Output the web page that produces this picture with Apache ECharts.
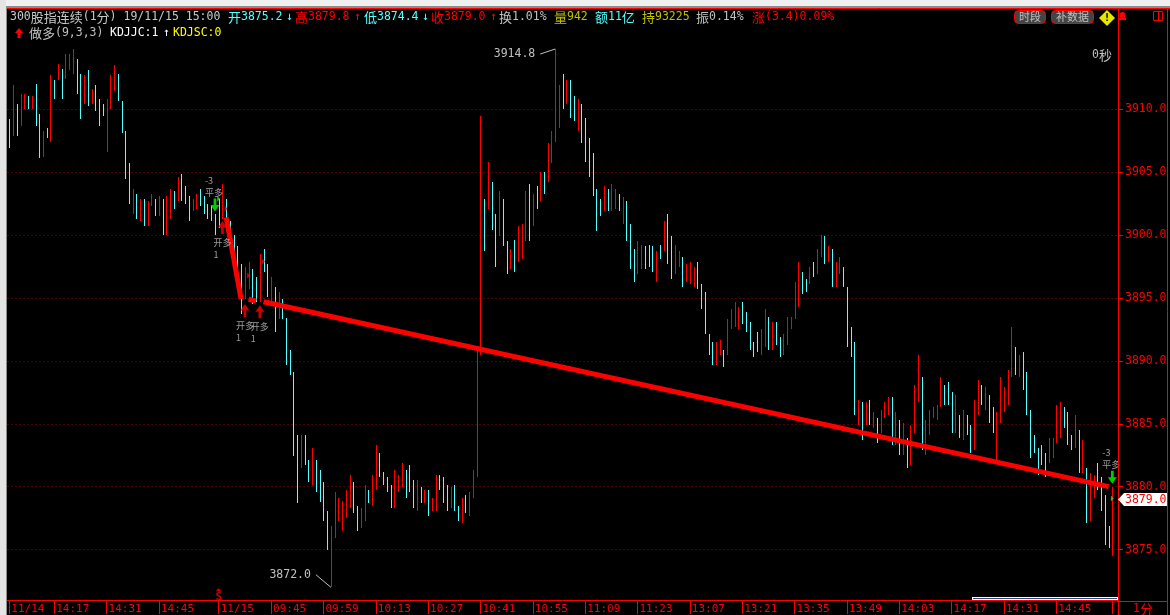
<!DOCTYPE html>
<html><head><meta charset="utf-8">
<style>html,body{margin:0;padding:0;background:#000}#c{width:1170px;height:615px}</style>
<script src="https://cdn.jsdelivr.net/npm/echarts@6/dist/echarts.min.js"></script>
</head><body><div id="c"></div>
<script>
const barHigh=[
3909.2,3911.9,3910.4,3911.2,3911.2,3911.1,3911.1,3912.0,3909.6,3908.3,
3908.5,3912.7,3912.3,3913.6,3913.2,3914.4,3914.4,3914.8,3914.0,3912.8,
3912.7,3913.1,3911.6,3911.9,3910.8,3910.4,3910.8,3912.7,3913.5,3912.8,
3910.7,3908.3,3905.7,3903.7,3903.3,3902.9,3902.9,3902.7,3903.3,3902.9,
3903.1,3902.9,3903.1,3903.7,3903.5,3904.6,3904.9,3903.9,3903.1,3902.9,
3903.3,3903.7,3903.1,3902.5,3902.3,3901.7,3902.9,3904.1,3902.9,3901.1,
3900.0,3899.1,3897.7,3897.5,3897.9,3897.3,3896.7,3898.5,3898.9,3897.7,
3896.7,3895.9,3895.5,3894.9,3893.4,3890.9,3889.1,3884.1,3884.1,3884.1,
3882.1,3883.1,3882.1,3881.3,3880.4,3878.1,3876.9,3879.6,3879.1,3878.9,
3879.7,3880.9,3880.4,3878.5,3878.3,3880.1,3879.7,3880.9,3883.3,3882.7,
3881.2,3880.8,3880.1,3881.3,3880.9,3881.9,3881.3,3881.7,3880.5,3880.5,
3880.0,3879.7,3879.7,3879.1,3880.9,3880.9,3880.8,3880.1,3880.0,3880.1,
3878.5,3879.1,3879.3,3879.6,3881.3,3890.8,3909.5,3902.9,3905.8,3904.2,
3901.7,3903.5,3902.9,3899.5,3898.9,3899.6,3900.7,3900.9,3903.5,3904.1,
3903.3,3903.9,3905.0,3905.0,3907.3,3908.3,3914.8,3911.9,3912.8,3912.3,
3912.3,3911.1,3910.8,3910.4,3909.3,3907.7,3906.5,3903.7,3902.9,3903.9,
3903.7,3904.1,3903.7,3903.3,3903.0,3902.7,3900.9,3898.9,3899.5,3899.2,
3899.1,3899.2,3899.1,3898.7,3899.2,3901.1,3901.7,3899.9,3899.2,3898.7,
3898.3,3897.7,3897.9,3897.5,3897.9,3896.1,3895.5,3892.1,3891.5,3891.5,
3891.7,3890.9,3893.3,3894.1,3894.7,3894.3,3894.7,3893.9,3893.1,3891.5,
3892.3,3892.5,3894.1,3893.5,3893.1,3893.1,3891.9,3892.1,3893.5,3893.5,
3896.3,3897.9,3897.1,3896.5,3897.5,3897.9,3898.9,3900.0,3899.9,3899.1,
3898.9,3897.9,3898.3,3897.5,3895.9,3892.7,3891.5,3886.9,3886.7,3886.7,
3886.9,3885.9,3885.5,3886.1,3886.7,3887.1,3887.1,3885.9,3885.3,3885.1,
3883.9,3884.9,3888.1,3890.5,3888.7,3885.3,3886.1,3886.3,3886.5,3888.7,
3888.1,3888.3,3887.5,3887.3,3885.7,3886.1,3885.7,3884.9,3886.9,3888.5,
3888.1,3887.9,3887.3,3886.3,3885.9,3888.7,3887.9,3889.3,3892.7,3891.1,
3890.5,3890.7,3889.1,3886.1,3884.1,3883.1,3883.3,3882.7,3883.9,3883.9,
3886.5,3886.7,3886.3,3885.9,3884.1,3885.7,3884.5,3883.7,3881.5,3881.1,
3880.9,3881.9,3880.8,3879.3,3876.9,3880.0];
const barLow=[
3906.9,3907.9,3907.9,3908.7,3910.0,3910.0,3910.0,3908.7,3906.1,3906.2,
3907.7,3907.4,3910.8,3912.3,3910.8,3912.4,3913.1,3912.8,3911.2,3909.2,
3910.4,3910.3,3910.4,3909.9,3908.7,3909.5,3906.6,3910.0,3911.5,3910.7,
3908.1,3904.5,3902.5,3901.7,3901.3,3901.1,3900.7,3900.7,3902.3,3901.5,
3901.5,3900.0,3900.0,3901.3,3902.1,3902.7,3902.7,3902.5,3901.1,3901.9,
3902.1,3902.3,3901.7,3901.3,3901.1,3900.0,3900.6,3901.3,3900.3,3899.0,
3898.1,3896.9,3893.7,3894.9,3895.7,3894.5,3894.7,3894.7,3897.1,3895.1,
3894.7,3892.3,3893.3,3893.3,3889.7,3888.9,3882.4,3878.7,3881.5,3881.7,
3880.4,3880.1,3879.6,3878.8,3877.3,3875.0,3872.0,3875.9,3877.3,3876.5,
3877.5,3878.3,3877.9,3876.5,3876.7,3877.3,3878.7,3878.5,3879.7,3880.8,
3880.1,3879.6,3878.3,3878.3,3879.6,3880.0,3879.1,3879.6,3878.3,3878.1,
3878.7,3878.7,3877.7,3878.1,3878.1,3879.7,3878.7,3878.1,3878.3,3878.1,
3877.3,3877.1,3877.9,3877.7,3879.1,3880.8,3890.5,3898.7,3902.1,3900.4,
3897.5,3899.9,3899.1,3896.9,3897.3,3897.1,3897.9,3898.1,3899.5,3899.5,
3900.7,3902.1,3902.7,3903.3,3904.2,3905.7,3907.4,3908.5,3910.0,3910.4,
3909.3,3909.1,3908.3,3907.3,3905.8,3904.6,3903.1,3900.3,3901.5,3901.9,
3901.9,3901.9,3902.1,3901.9,3900.9,3899.5,3897.3,3896.3,3896.9,3897.3,
3897.3,3897.5,3897.1,3896.3,3898.1,3898.7,3897.7,3896.5,3896.9,3897.5,
3895.9,3896.3,3896.1,3895.9,3895.7,3894.1,3892.1,3890.5,3889.7,3889.7,
3890.5,3889.5,3890.5,3892.5,3892.7,3892.5,3892.9,3892.3,3890.9,3890.3,
3890.7,3890.5,3891.1,3890.9,3890.9,3891.3,3890.3,3890.5,3891.3,3892.5,
3893.3,3894.3,3895.3,3895.5,3896.1,3896.7,3896.9,3898.3,3897.7,3897.9,
3895.9,3895.9,3896.9,3895.9,3891.1,3890.3,3885.7,3884.9,3883.7,3884.9,
3884.9,3884.7,3883.5,3884.3,3885.5,3885.7,3883.3,3883.3,3882.5,3882.5,
3881.5,3881.7,3884.3,3886.7,3882.9,3882.5,3884.1,3885.5,3885.3,3886.3,
3886.5,3886.5,3884.3,3884.3,3883.9,3883.7,3884.1,3882.7,3882.9,3885.7,
3886.5,3886.1,3885.1,3884.3,3882.1,3885.1,3885.9,3886.5,3888.7,3888.9,
3888.7,3887.7,3885.7,3882.3,3882.7,3880.9,3881.7,3880.8,3881.9,3882.3,
3883.5,3883.9,3884.7,3883.3,3882.9,3883.1,3881.1,3881.1,3877.1,3877.3,
3879.1,3879.7,3878.1,3875.4,3875.1,3874.5];
const barRise=[
0,1,0,1,1,0,1,0,0,1, 0,1,0,1,0,1,1,1,0,0, 1,0,1,0,0,0,1,1,1,0, 0,0,0,1,0,1,0,1,1,0,
1,0,1,1,0,1,0,0,0,1, 1,0,0,0,0,0,0,1,0,0, 0,0,0,1,1,0,0,1,0,0, 1,0,1,0,0,0,0,0,1,0,
0,1,0,0,0,0,1,1,1,1, 1,1,0,0,1,1,0,1,1,0, 0,0,0,1,1,1,0,0,0,1, 0,1,0,1,1,0,0,0,1,0,
0,1,0,1,1,1,1,0,1,0, 0,1,0,0,1,0,1,1,1,0, 1,0,1,0,1,1,1,1,0,1, 0,0,1,0,0,0,0,0,0,1,
0,1,1,0,1,0,0,0,1,1, 0,0,0,1,0,1,0,0,1,1, 0,1,1,1,0,0,0,0,0,1, 1,0,1,1,1,1,0,0,0,0,
0,1,1,0,1,0,0,1,1,1, 1,1,0,0,1,0,1,1,0,1, 0,1,1,0,0,0,0,1,0,1, 0,1,0,1,1,1,0,1,0,1,
0,1,1,1,0,1,1,1,1,1, 0,0,0,1,0,1,0,0,1,1, 0,1,0,0,1,1,1,1,1,0, 1,0,0,0,0,0,0,0,1,1,
1,1,0,0,0,1,0,1,0,1, 1,0,0,0,0,1];

const tickIndex=[0,12,26,40,56,70,84,98,112,126,140,154,168,182,196,210,224,238,252,266,280,295];
const tickLabels=['11/14','14:17','14:31','14:45','11/15','09:45','09:59','10:13','10:27','10:41','10:55','11:09','11:23','13:07','13:21','13:35','13:49','14:03','14:17','14:31','14:45',''];
const priceTicks=[3875,3880,3885,3890,3895,3900,3905,3910];
const priceMin=3870.99, priceMax=3918.06;

const trendA=[[58,3901.4],[62,3894.9]];
const trendB=[[64,3894.9],[66,3894.75]];
const trendC=[[68,3894.7],[294,3880.0]];
const openLong=[[57,3900.6],[63,3894.0],[67,3893.9]];
const closeLong=[[55,3902.4],[295,3880.75]];
const redFlags=[[58,3902.1],[64,3896.8],[68,3897.9]];
const greenFlags=[[56,3902.9],[295,3879.06]];
const stopMark=[[56,3871.8]];
const highNote=[[142,3914.4],[146,3914.8]];
const lowNote=[[82,3873.0],[86,3872.0]];

const headerRow1=[[10,'300股指连续(1分) 19/11/15 15:00','#c8c8c8'],[228,'开3875.2','#54ffff'],[286,'↓','#54ffff'],
[295,'高3879.8','#ff0000'],[354,'↑','#ff0000'],[364,'低3874.4','#54ffff'],[422,'↓','#54ffff'],[431,'收3879.0','#ff0000'],[490,'↑','#ff0000'],
[499,'换1.01%','#c0c0c0'],[554,'量942','#c0c000'],[595,'额11亿','#54ffff'],[642,'持93225','#c0c000'],[696,'振0.14%','#c0c0c0'],[752,'涨(3.4)0.09%','#ff0000']];
const headerRow2=[[29,'做多(9,3,3)','#c0c0c0'],[110,'KDJJC:1','#ffffff'],[163,'↑','#ffffff'],[173,'KDJSC:0','#ffff00']];

const mono='"DejaVu Sans Mono","Noto Sans CJK SC",monospace';
const cjk='"Noto Sans CJK SC",sans-serif';
const RED='#ff0000', CYAN='#54ffff', GRAY='#c0c0c0';

const categories=barHigh.map(()=>''); categories.push('');
tickIndex.forEach((i,k)=>{categories[i]=tickLabels[k];});
const tickSet=new Set(tickIndex);
const bars=barHigh.map((h,i)=>[i,barLow[i],h,barRise[i]]);

// Mixed text: CJK runs are drawn wider than the monospace digits, as in the reference.
const mixed=(text,color)=>{
  const runs=text.match(/[\u4e00-\u9fff]+|[^\u4e00-\u9fff]+/g);
  return {text:runs.map(r=>/[\u4e00-\u9fff]/.test(r)?`{c|${r}}`:`{m|${r}}`).join(''),
    rich:{c:{fill:color,font:`13px ${cjk}`},m:{fill:color,font:`11.5px ${mono}`}},textVerticalAlign:'middle'};
};
const hdr=(row,y)=>row.map(r=>({type:'text',x:r[0],y:y,z:20,style:mixed(r[1],r[2])}));
const rule=(x1,y1,x2,y2,c)=>({type:'line',z:20,shape:{x1,y1,x2,y2},style:{stroke:c||RED,lineWidth:1}});
const trendSeries=d=>({type:'line',data:d,symbol:'none',z:5,animation:false,lineStyle:{color:RED,width:5,cap:'butt'},silent:true});
const noteSeries=(d,text,pos)=>({type:'line',data:d,symbol:'none',z:6,animation:false,silent:true,lineStyle:{color:GRAY,width:1},
  markPoint:{symbol:'circle',symbolSize:0,animation:false,data:[{coord:d[0],label:{show:true,formatter:text,position:pos,distance:5,color:GRAY,fontFamily:mono,fontSize:11.5}}]}});

const option={
 backgroundColor:'#000',animation:false,
 grid:{left:7.46,top:8,width:1110.5,height:593,containLabel:false,show:false},
 xAxis:{type:'category',data:categories,boundaryGap:true,
  axisLine:{show:true,lineStyle:{color:RED,width:1}},
  axisTick:{show:true,length:14,alignWithLabel:true,interval:i=>tickSet.has(i),lineStyle:{color:RED,width:1}},
  axisLabel:{interval:0,hideOverlap:false,align:'left',verticalAlign:'top',margin:4,padding:[0,0,0,2],color:RED,fontFamily:mono,fontSize:11},
  splitLine:{show:false}},
 yAxis:{type:'value',position:'right',min:priceMin,max:priceMax,scale:true,
  axisLine:{show:false},
  axisTick:{show:true,length:5,inside:false,customValues:priceTicks,lineStyle:{color:RED}},
  axisLabel:{customValues:priceTicks,formatter:v=>v.toFixed(1),color:RED,fontFamily:mono,fontSize:11.5,margin:7,padding:[3,0,0,0]},
  splitLine:{show:true,lineStyle:{color:'#990000',width:1,type:[1,3]}}},
 series:[
  {type:'custom',data:bars,encode:{x:0,y:[1,2]},z:3,silent:true,clip:false,
   renderItem:(p,api)=>{
     const lo=api.coord([api.value(0),api.value(1)]), hi=api.coord([api.value(0),api.value(2)]);
     const top=Math.round(hi[1]), bottom=Math.round(lo[1]);
     return {type:'rect',shape:{x:Math.round(lo[0]),y:top,width:1,height:Math.max(1,bottom-top)},
       style:{fill:api.value(3)?RED:CYAN}};
   }},
  trendSeries(trendA),trendSeries(trendB),trendSeries(trendC),
  noteSeries(highNote,'3914.8','left'),noteSeries(lowNote,'3872.0','left'),
  {type:'scatter',data:openLong,z:8,silent:true,symbol:'path://M5 0L10 7L6.5 7L6.5 14L3.5 14L3.5 7L0 7Z',symbolSize:[9,13],itemStyle:{color:RED},
   label:{show:true,position:[-4.5,15],align:'left',verticalAlign:'top',formatter:'开多\n1',color:GRAY,fontFamily:cjk,fontSize:9,lineHeight:12}},
  {type:'scatter',data:closeLong,z:8,silent:true,symbol:'path://M3.5 0L6.5 0L6.5 7L10 7L5 14L0 7L3.5 7Z',symbolSize:[9,13],itemStyle:{color:'#00ff00'},
   label:{show:true,position:[-5.5,-24],align:'left',verticalAlign:'top',formatter:'-3\n平多',color:GRAY,fontFamily:cjk,fontSize:9,lineHeight:12}},
  {type:'scatter',data:redFlags,z:8,silent:true,symbol:'path://M0 0L6 4L0 8Z',symbolSize:[3,6],itemStyle:{color:RED}},
  {type:'scatter',data:greenFlags,z:8,silent:true,symbol:'path://M0 0L6 4L0 8Z',symbolSize:[3,6],itemStyle:{color:'#00ff00'}},
  {type:'scatter',data:stopMark,z:8,silent:true,symbol:'triangle',symbolSize:[6,3],itemStyle:{color:RED},
   label:{show:true,position:'bottom',distance:0,formatter:'S',color:RED,fontFamily:mono,fontSize:11,fontWeight:'bold'}}
 ],
 graphic:[
  {type:'rect',z:19,shape:{x:0,y:0,width:1170,height:6},style:{fill:'#f0f0f0'}},
  {type:'rect',z:19,shape:{x:0,y:6,width:1170,height:2},style:{fill:'#8c8c8c'}},
  {type:'rect',z:19,shape:{x:0,y:0,width:6,height:615},style:{fill:'#e4e4e4'}},
  {type:'rect',z:19,shape:{x:6,y:8,width:1,height:607},style:{fill:'#8c8c8c'}},
  rule(7,8.5,1170,8.5),
  rule(1118.5,8,1118.5,615),
  rule(1167.5,8,1167.5,615),
  rule(1117,601.5,1167,601.5),
  {type:'rect',z:20,shape:{x:972,y:597,width:146,height:3},style:{fill:'#ffffff'}},
  {type:'rect',z:21,shape:{x:973,y:598,width:144,height:1},style:{fill:'#2a4a80'}},
  {type:'text',x:1133,y:609,z:20,style:mixed('1分',RED)},
  {type:'polygon',z:20,shape:{points:[[1118,499.5],[1124,493],[1167,493],[1167,506],[1124,506]]},style:{fill:'#ffffff'}},
  {type:'text',x:1125,y:500,z:21,style:{text:'3879.0',fill:RED,font:`11.5px ${mono}`,textVerticalAlign:'middle'}},
  ...hdr(headerRow1,17),...hdr(headerRow2,33),
  {type:'polygon',z:20,shape:{points:[[19,28],[23,33],[20.5,33],[20.5,38],[17.5,38],[17.5,33],[15,33]]},style:{fill:RED}},
  {type:'text',x:1092,y:55,z:20,style:mixed('0秒',GRAY)},
  {type:'rect',z:20,shape:{x:1014.5,y:10.5,width:31,height:13,r:4},style:{fill:'#444444',stroke:RED,lineWidth:1}},
  {type:'text',x:1030,y:17,z:21,style:{text:'时段',fill:GRAY,font:`11px ${cjk}`,textAlign:'center',textVerticalAlign:'middle'}},
  {type:'rect',z:20,shape:{x:1051.5,y:10.5,width:42,height:13,r:4},style:{fill:'#444444',stroke:RED,lineWidth:1}},
  {type:'text',x:1072.5,y:17,z:21,style:{text:'补数据',fill:GRAY,font:`11px ${cjk}`,textAlign:'center',textVerticalAlign:'middle'}},
  {type:'polygon',z:20,shape:{points:[[1107,10],[1115,18],[1107,26],[1099,18]]},style:{fill:'#e6e600'}},
  {type:'text',x:1107,y:18,z:21,style:{text:'!',fill:'#000',font:`bold 11px ${mono}`,textAlign:'center',textVerticalAlign:'middle'}},
  {type:'circle',z:20,shape:{cx:1122.5,cy:15,r:3},style:{fill:RED}},
  {type:'rect',z:20,shape:{x:1119,y:18,width:7,height:2},style:{fill:RED}},
  {type:'rect',z:20,shape:{x:1153.5,y:11.5,width:9,height:9},style:{fill:'none',stroke:RED,lineWidth:1}},
  rule(1158.5,11,1158.5,21)
 ]
};
const chart=echarts.init(document.getElementById('c'),null,{renderer:'canvas',width:1170,height:615});
chart.setOption(option);
</script></body></html>
